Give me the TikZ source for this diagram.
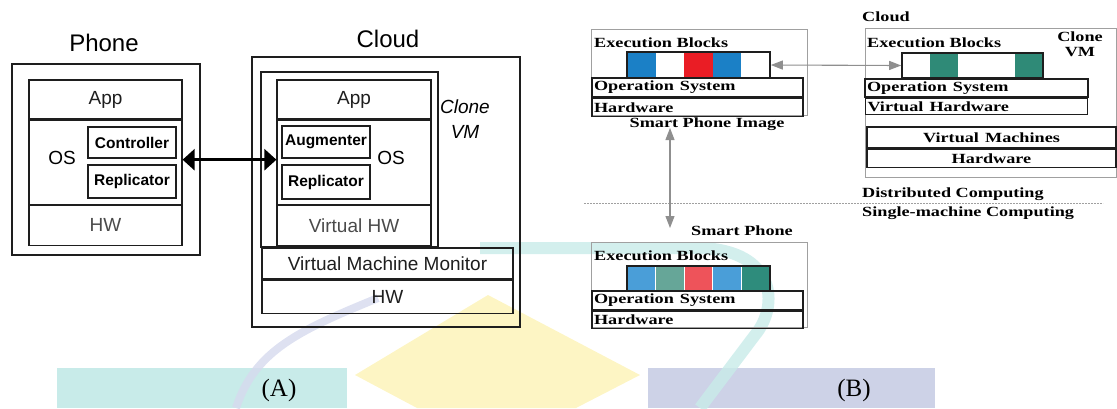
\documentclass[tikz,border=0pt]{standalone}
\usepackage{fontspec}
\setmainfont{Liberation Serif}
\setsansfont{Liberation Sans}
\usetikzlibrary{arrows.meta,positioning}
\definecolor{Ink}{HTML}{1E1E1E}
\definecolor{Soft}{HTML}{4A4A4A}
\definecolor{Outline}{HTML}{A0A0A0}
\definecolor{Pointer}{HTML}{8F8F8F}
\definecolor{ExBlue}{HTML}{1B80C6}
\definecolor{ExRed}{HTML}{EA1D25}
\definecolor{ExTeal}{HTML}{2F8A77}
\definecolor{PaleBlue}{HTML}{4A9ED8}
\definecolor{PaleTeal}{HTML}{66A698}
\definecolor{PaleRed}{HTML}{EE535A}
\definecolor{DeepTeal}{HTML}{2E8C7C}
\definecolor{WmCyan}{HTML}{C8EBE9}
\definecolor{WmBlue}{HTML}{CDD2E7}
\definecolor{WmStripe}{HTML}{D6DAEE}
\definecolor{WmYellow}{HTML}{FDF5C4}
\newcommand\wide[1]{\scalebox{1.3}[1]{#1}}
\tikzset{shell/.style={draw=Ink,line width=1.2pt,inner sep=0pt},stack/.style={draw=Ink,line width=1.2pt,inner sep=0pt,font=\sffamily\fontsize{19}{21}\selectfont,text=Ink},module/.style={draw=Ink,line width=1.6pt,inner sep=0pt,minimum width=88pt,font=\sffamily\bfseries\fontsize{15.5}{17}\selectfont},title/.style={font=\sffamily\fontsize{24}{26}\selectfont,inner sep=0pt},outline/.style={draw=Outline,line width=.9pt,inner sep=0pt},tier/.style={draw=Ink,line width=1.6pt,inner xsep=2pt,inner ysep=0pt,align=left,font=\bfseries\fontsize{14}{16}\selectfont},strip/.style={draw=Ink,line width=1.6pt,inner sep=0pt},blab/.style={font=\bfseries\fontsize{14}{15}\selectfont,inner sep=0pt},link/.style={{Triangle[length=12pt,width=21pt]}-{Triangle[length=12pt,width=21pt]},line width=2.6pt,draw=black},relay/.style={{Triangle[length=12pt,width=9pt]}-{Triangle[length=12pt,width=9pt]},line width=1.1pt,draw=Pointer},caption/.style={font=\fontsize{25}{27}\selectfont,inner sep=0pt}}

\begin{document}
\begin{tikzpicture}[x=1pt,y=-1pt]
\useasboundingbox (0,0) rectangle (1117,408);
\fill[WmCyan] (57,368) rectangle (347,408);
\fill[WmBlue] (648,368) rectangle (935,408);
\fill[WmYellow] (488,295) -- (640,375) -- (576,408) -- (417,408) -- (355,375) -- cycle;
\draw[WmCyan,line width=12pt,opacity=.8] (480,248) -- (700,248) .. controls (775,250) and (780,305) .. (755,335) -- (700,408);
\draw[WmStripe,line width=8pt,opacity=.8] (378,298) .. controls (300,330) and (255,350) .. (236,408);

\node[title] (phonettl) at (104,43) {Phone};
\node[shell,minimum width=188pt,minimum height=191pt] (phone) at (106,159.5) {};
\node[stack,minimum width=153pt,minimum height=39pt] (app1) at (105.5,99.5) {App};
\node[stack,minimum width=153pt,minimum height=84pt,below=0pt of app1] (os1) {};
\node[stack,minimum width=153pt,minimum height=40pt,below=0pt of os1,text=Soft] (hw1) {HW};
\node[font=\sffamily\fontsize{19}{21}\selectfont] (oslbl1) at (62,158) {OS};
\node[module,minimum height=31pt] (ctrl) at (132,142.5) {Controller};
\node[module,minimum height=33pt] (repl1) at (132,181.5) {Replicator};

\node[title] (cloudttl) at (388,39) {Cloud};
\node[shell,minimum width=268pt,minimum height=270pt] (cloud) at (386,192) {};
\node[shell,minimum width=177pt,minimum height=175pt] (clone) at (349.5,159.5) {};
\node[stack,minimum width=154pt,minimum height=39pt] (app2) at (354,99.5) {App};
\node[stack,minimum width=154pt,minimum height=84pt,below=0pt of app2] (os2) {};
\node[stack,minimum width=154pt,minimum height=40pt,below=0pt of os2,text=Soft] (vhw1) {Virtual HW};
\node[module,minimum height=32pt] (aug) at (326,142) {Augmenter};
\node[module,minimum height=34pt] (repl2) at (326,182) {Replicator};
\node[font=\sffamily\fontsize{19}{21}\selectfont] (oslbl2) at (391,158) {OS};
\node[font=\sffamily\itshape\fontsize{19}{25}\selectfont,align=center] (clonelbl) at (465,119.5) {Clone\\VM};
\node[stack,minimum width=251pt,minimum height=31pt] (vmm) at (387.5,263.5) {Virtual Machine Monitor};
\node[stack,minimum width=251pt,minimum height=33pt,below=0pt of vmm] (hw2) {HW};
\draw[link] ([yshift=2.5pt]os1.east) -- ([yshift=2.5pt]os2.west);
\node[caption] (capA) at (279,390) {(A)};

\node[outline,minimum width=216pt,minimum height=86pt] (img) at (699,72) {};
\node[blab,anchor=west] (ex1) at (594,43) {\wide{Execution Blocks}};
\foreach \c [count=\i from 0] in {ExBlue,white,ExRed,ExBlue,white}
  \fill[fill=\c] (627+\i*28.6,52) rectangle ++(28.6,26);
\node[strip,minimum width=143pt,minimum height=26pt] (strip1) at (698.5,65) {};
\node[tier,text width=207pt,minimum height=19pt] (os3) at (697.5,87.5) {\wide{Operation System}};
\node[tier,text width=207pt,minimum height=18pt,below=0pt of os3] (hw3) {\wide{Hardware}};
\node[blab] (imglbl) at (707,124) {\wide{Smart Phone Image}};

\node[blab,anchor=west] (cloudlbl) at (862,17) {\wide{Cloud}};
\node[outline,minimum width=251pt,minimum height=149pt] (vmhost) at (990.5,102.5) {};
\node[blab,align=center] (clonelbl2) at (1080,44.5) {\wide{Clone}\\\wide{VM}};
\node[blab,anchor=west] (ex2) at (867,43) {\wide{Execution Blocks}};
\foreach \c [count=\i from 0] in {white,ExTeal,white,white,ExTeal}
  \fill[fill=\c] (902+\i*28.2,53) rectangle ++(28.2,25);
\node[strip,minimum width=141pt,minimum height=25pt] (strip2) at (972.5,65.5) {};
\node[tier,text width=219pt,minimum height=18pt] (os4) at (976.5,88) {\wide{Operation System}};
\node[tier,text width=218pt,minimum height=16pt,below=0pt of os4] (vhw2) {\wide{Virtual Hardware}};
\node[tier,text width=245pt,minimum height=21pt,align=center] (vms) at (991.5,137.5) {\wide{Virtual Machines}};
\node[tier,text width=245pt,minimum height=18pt,align=center,below=0pt of vms] (hw4) {\wide{Hardware}};
\draw[relay] (strip1.east) -- (strip2.west);

\node[blab,anchor=west] (distlbl) at (862,194) {\wide{Distributed Computing}};
\node[blab,anchor=west] (singlelbl) at (862,213) {\wide{Single-machine Computing}};
\coordinate (divL) at (584,203);
\coordinate (divR) at (1103,203);
\draw[Outline,line width=.8pt,dash pattern=on 2pt off 1pt] (divL) -- (divR);

\node[blab] (phonelbl) at (742,231) {\wide{Smart Phone}};
\node[outline,minimum width=216pt,minimum height=85pt] (phoneb) at (699,284.5) {};
\node[blab,anchor=west] (ex3) at (594,256) {\wide{Execution Blocks}};
\foreach \c [count=\i from 0] in {PaleBlue,PaleTeal,PaleRed,PaleBlue,DeepTeal}
  \fill[fill=\c,draw=white,line width=.8pt] (627+\i*28.6,266) rectangle ++(28.6,25);
\node[strip,minimum width=143pt,minimum height=25pt] (strip3) at (698.5,278.5) {};
\node[tier,text width=207pt,minimum height=19pt] (os5) at (697.5,300.5) {\wide{Operation System}};
\node[tier,text width=207pt,minimum height=17pt,below=0pt of os5] (hw5) {\wide{Hardware}};
\coordinate (upTip) at (670,128);
\coordinate (downTip) at (670,228);
\draw[relay] (upTip) -- (downTip);
\node[caption] (capB) at (854,390) {(B)};
\end{tikzpicture}
\end{document}
